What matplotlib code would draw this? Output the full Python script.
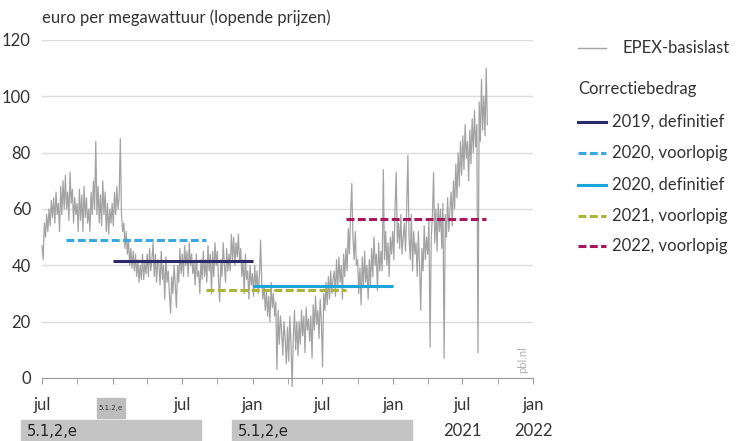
import pandas as pd
import matplotlib.pyplot as plt
import matplotlib.dates as mdates
from matplotlib.patches import Rectangle
from matplotlib.lines import Line2D
from matplotlib import transforms

plt.rcParams['font.family'] = ['Lato', 'DejaVu Sans']

# EPEX base load day prices (euro/MWh), about 10 readings per month, Jul 2018 - early Sep 2021
epex = [
    47, 42, 55, 50, 58, 52, 60, 54, 63, 57,   # jul 2018
    64, 55, 66, 58, 62, 52, 68, 58, 70, 60,   # aug
    72, 60, 66, 56, 73, 62, 67, 55, 64, 58,   # sep
    62, 52, 67, 56, 65, 52, 68, 57, 64, 55,   # oct
    60, 52, 66, 58, 70, 60, 84, 58, 68, 55,   # nov
    65, 54, 70, 58, 66, 52, 62, 51, 60, 55,   # dec
    62, 54, 66, 58, 68, 60, 64, 85, 58, 52,   # jan 2019
    55, 46, 52, 44, 49, 40, 46, 39, 45, 38,   # feb
    44, 36, 42, 34, 40, 35, 44, 35, 41, 37,   # mar
    44, 36, 46, 38, 42, 48, 36, 44, 34, 42,   # apr
    40, 33, 45, 35, 40, 28, 43, 34, 38, 30,   # may
    23, 36, 30, 40, 33, 25, 40, 34, 46, 37,   # jun
    44, 36, 47, 40, 45, 36, 48, 40, 44, 37,   # jul
    41, 33, 44, 36, 38, 30, 42, 35, 45, 36,   # aug
    42, 34, 47, 38, 44, 30, 45, 36, 48, 40,   # sep
    45, 35, 27, 42, 36, 48, 40, 34, 46, 38,   # oct
    44, 38, 51, 42, 50, 40, 48, 43, 51, 41,   # nov
    46, 36, 42, 30, 44, 35, 38, 28, 40, 33,   # dec
    37, 29, 40, 32, 38, 30, 36, 49, 34, 28,   # jan 2020
    33, 24, 31, 22, 29, 20, 34, 25, 30, 22,   # feb
    27, 3, 24, 12, 22, 17, 8, 20, 14, 5,      # mar
    18, 6, 22, 12, -3, 15, 24, 10, 20, 8,     # apr
    20, 12, 24, 15, 22, 9, 25, 17, 21, 13,    # may
    22, 7, 26, 17, 29, 19, 24, 14, 28, 20,    # jun
    4, 30, 24, 34, 26, 36, 28, 38, 30, 35,    # jul
    38, 29, 42, 32, 43, 34, 40, 28, 44, 36,   # aug
    46, 38, 53, 44, 58, 69, 50, 42, 52, 40,   # sep
    42, 30, 39, 26, 43, 32, 45, 34, 40, 28,   # oct
    42, 33, 46, 36, 50, 40, 44, 31, 48, 38,   # nov
    45, 38, 74, 42, 52, 40, 48, 36, 50, 44,   # dec
    52, 42, 60, 73, 48, 55, 46, 58, 44, 50,   # jan 2021
    55, 45, 60, 79, 50, 42, 58, 38, 52, 44,   # feb
    48, 36, 52, 40, 24, 46, 38, 54, 42, 50,   # mar
    44, 56, 11, 50, 58, 73, 48, 60, 45, 62,   # apr
    52, 60, 46, 62, 7, 58, 50, 64, 52, 60,    # may
    66, 54, 70, 60, 76, 64, 80, 68, 84, 72,   # jun
    86, 74, 90, 78, 84, 70, 88, 76, 92, 80,   # jul
    95, 82, 90, 9, 98, 84, 106, 88, 100, 86,  # aug
    110, 90,                                  # sep
]
epex_dates = pd.date_range("2018-07-01", "2021-09-04", periods=len(epex))

# correction amounts
corr_labels = ["2019, definitief", "2020, voorlopig", "2020, definitief",
               "2021, voorlopig", "2022, voorlopig"]
corr_start = ["2019-01-01", "2018-09-01", "2020-01-01", "2019-09-01", "2020-09-01"]
corr_end = ["2020-01-01", "2019-09-01", "2021-01-01", "2020-09-01", "2021-09-01"]
corr_value = [41.5, 49, 32.6, 31.3, 56.5]
corr_color = ["#2e2a6e", "#3aa8e0", "#1aa6dd", "#aab43a", "#a6195c"]
corr_style = ["-", (0, (2.6, 1.1)), "-", (0, (2.6, 1.1)), (0, (2.6, 1.1))]

tick_dates = pd.date_range("2018-07-01", "2022-01-01", freq="6MS")
tick_labels = ["jul", "", "jul", "jan", "jul", "jan", "jul", "jan"]

fs = 12
fig = plt.figure(figsize=(7.4, 4.41), dpi=100)
ax = fig.add_axes([42 / 740, 1 - 378 / 441, 491 / 740, 338 / 441])

ax.plot(epex_dates, epex, color="#a3a3a3", lw=0.9, clip_on=False, zorder=2)
order = [1, 0, 3, 2, 4]
for i in order:
    ax.hlines(corr_value[i], pd.Timestamp(corr_start[i]), pd.Timestamp(corr_end[i]),
              colors=corr_color[i], linestyles=corr_style[i], lw=2.2, zorder=3)

ax.set_xlim(pd.Timestamp("2018-07-01"), pd.Timestamp("2022-01-01"))
ax.set_ylim(0, 120)
ax.set_yticks([0, 20, 40, 60, 80, 100, 120])
ax.yaxis.grid(True, color="#dcdcdc", lw=1)
ax.set_axisbelow(True)
for s in ["top", "right", "left"]:
    ax.spines[s].set_visible(False)
ax.spines["bottom"].set_color("#9a9a9a")
ax.tick_params(axis="y", length=0, pad=8, labelsize=fs, labelcolor="#333333")
ax.set_xticks(tick_dates)
ax.set_xticklabels(tick_labels)
ax.xaxis.set_minor_locator(mdates.MonthLocator(bymonth=[4, 10]))
ax.tick_params(axis="x", which="both", length=4, color="#9a9a9a", pad=10,
               labelsize=fs, labelcolor="#333333")

fig.text(42 / 740, 1 - 18 / 441, "euro per megawattuur (lopende prijzen)",
         fontsize=fs, color="#333333", va="center")

# year row under the x axis
trans = transforms.blended_transform_factory(ax.transData, fig.transFigure)
ax.text(pd.Timestamp("2021-07-01"), 1 - 431 / 441, "2021", transform=trans,
        ha="center", va="center", fontsize=fs, color="#333333")
ax.text(pd.Timestamp("2022-01-01"), 1 - 431 / 441, "2022", transform=trans,
        ha="center", va="center", fontsize=fs, color="#333333")

# redaction boxes
for x0, x1 in [(21, 201), (232, 412)]:
    fig.patches.append(Rectangle((x0 / 740, 0), (x1 - x0) / 740, 21 / 441,
                                 transform=fig.transFigure, color="#c4c4c4", zorder=5))
    fig.text((x0 + 6) / 740, 1 - 431 / 441, "5.1,2,e", fontsize=10.5,
             family="DejaVu Sans", color="#222222", va="center", zorder=6)
fig.patches.append(Rectangle((97 / 740, 1 - 418 / 441), 28 / 740, 20 / 441,
                             transform=fig.transFigure, color="#bdbdbd", zorder=5))
fig.text(111 / 740, 1 - 408 / 441, "5.1.2,e", fontsize=5, family="DejaVu Sans",
         color="#333333", ha="center", va="center", zorder=6)

fig.text(523 / 740, 1 - 360 / 441, "pbl.nl", rotation=90, fontsize=8,
         color="#b0b0b0", ha="center", va="center")

# legend
fig.add_artist(Line2D([578 / 740, 606 / 740], [1 - 48 / 441] * 2,
                      transform=fig.transFigure, color="#a3a3a3", lw=1))
fig.text(622 / 740, 1 - 48 / 441, "EPEX-basislast", fontsize=fs,
         color="#333333", va="center")
fig.text(578 / 740, 1 - 89 / 441, "Correctiebedrag", fontsize=fs,
         color="#333333", va="center")
leg_y = [122, 153, 185, 216, 246]
for i in range(len(corr_labels)):
    fig.add_artist(Line2D([578 / 740, 606 / 740], [1 - leg_y[i] / 441] * 2,
                          transform=fig.transFigure, color=corr_color[i],
                          ls=corr_style[i], lw=2.2))
    fig.text(612 / 740, 1 - leg_y[i] / 441, corr_labels[i], fontsize=fs,
             color="#333333", va="center")

fig.savefig("out.png", dpi=100)
